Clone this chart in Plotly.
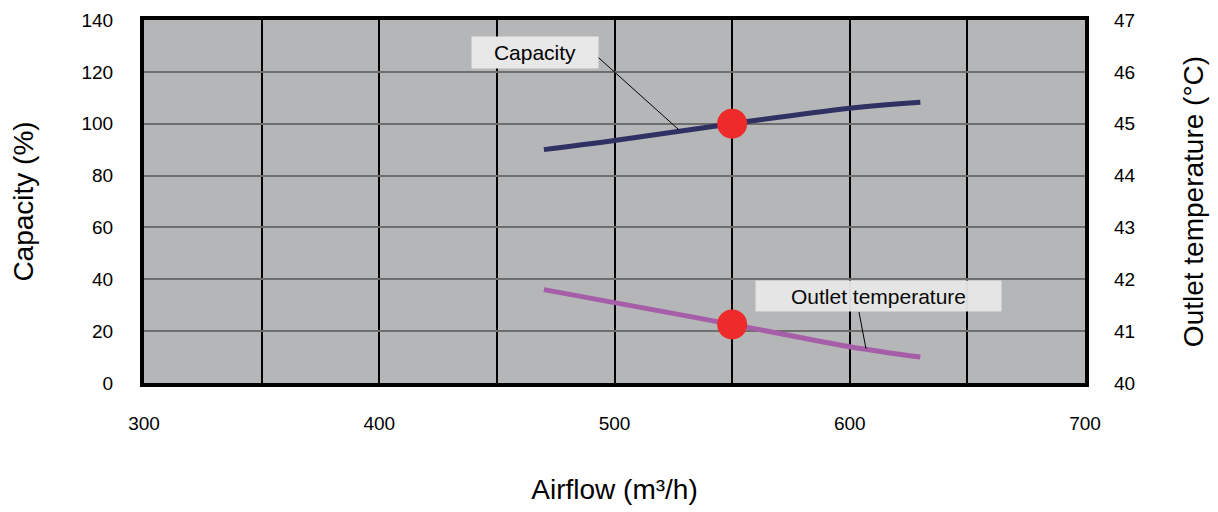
import plotly.graph_objects as go

# Data
airflow = [470, 500, 550, 600, 630]
capacity = [90, 93.5, 100, 106, 108.3]
outlet_temp = [41.8, 41.55, 41.13, 40.7, 40.5]
rated_airflow = [550]
rated_capacity = [100]
rated_temp = [41.13]

x_tickvals = [300, 350, 400, 450, 500, 550, 600, 650, 700]
x_ticktext = ["300", "", "400", "", "500", "", "600", "", "700"]
y_tickvals = [0, 20, 40, 60, 80, 100, 120, 140]
y2_tickvals = [40, 41, 42, 43, 44, 45, 46, 47]

FONT = "Liberation Sans, Arial, sans-serif"

fig = go.Figure()
fig.add_trace(go.Scatter(x=airflow, y=capacity, mode="lines", line=dict(color="#2f3163", width=5, shape="spline"),
                         showlegend=False, hoverinfo="skip"))
fig.add_trace(go.Scatter(x=airflow, y=outlet_temp, mode="lines", yaxis="y2",
                         line=dict(color="#a65ea8", width=5, shape="spline"), showlegend=False, hoverinfo="skip"))
fig.add_trace(go.Scatter(x=rated_airflow, y=rated_capacity, mode="markers",
                         marker=dict(color="#ee2a2a", size=30), showlegend=False))
fig.add_trace(go.Scatter(x=rated_airflow, y=rated_temp, mode="markers", yaxis="y2",
                         marker=dict(color="#ee2a2a", size=30), showlegend=False))

# leader lines
fig.add_shape(type="line", xref="x", yref="y", x0=491.7, y0=126.7, x1=527.3, y1=97.7,
              line=dict(color="black", width=1))
fig.add_shape(type="line", xref="x", yref="y", x0=603.9, y0=27.5, x1=606.9, y1=13.2,
              line=dict(color="black", width=1))

fig.add_annotation(x=466.3, y=127.3, xref="x", yref="y", text="Capacity", showarrow=False,
                   bgcolor="#e8e8e8", width=126, height=31, borderpad=0,
                   font=dict(family=FONT, size=21, color="black"))
fig.add_annotation(x=612.4, y=33.6, xref="x", yref="y", text="Outlet temperature", showarrow=False,
                   bgcolor="#e8e8e8", width=245, height=30, borderpad=0, opacity=0.95,
                   font=dict(family=FONT, size=21, color="black"))

fig.update_layout(
    width=1218, height=512,
    margin=dict(l=136, r=141, t=12, b=137),
    paper_bgcolor="white", plot_bgcolor="#b5b6b8",
    font=dict(family=FONT, size=19, color="black"),
    xaxis=dict(range=[300, 700], tickvals=x_tickvals, ticktext=x_ticktext,
               showgrid=True, gridcolor="black", gridwidth=2,
               showline=True, linecolor="black", linewidth=4, mirror=True,
               ticks="", ticklabelstandoff=20, zeroline=False, automargin=False,
               ticklabeloverflow="allow",
               title=dict(text="Airflow (m³/h)", font=dict(size=28), standoff=48)),
    yaxis=dict(range=[0, 140], tickvals=y_tickvals, showgrid=True, gridcolor="#6e6e6e", gridwidth=1.5,
               showline=True, linecolor="black", linewidth=4, mirror=True, zeroline=False,
               ticks="", ticklabelstandoff=23, automargin=False, ticklabeloverflow="allow",
               title=dict(text="Capacity (%)", font=dict(size=28), standoff=43)),
    yaxis2=dict(range=[40, 47], tickvals=y2_tickvals, overlaying="y", side="right", showgrid=False,
                zeroline=False, ticks="", ticklabelstandoff=28, automargin=False, ticklabeloverflow="allow",
                title=dict(text="Outlet temperature (°C)", font=dict(size=28), standoff=48)),
)

fig.write_html("out.html")
